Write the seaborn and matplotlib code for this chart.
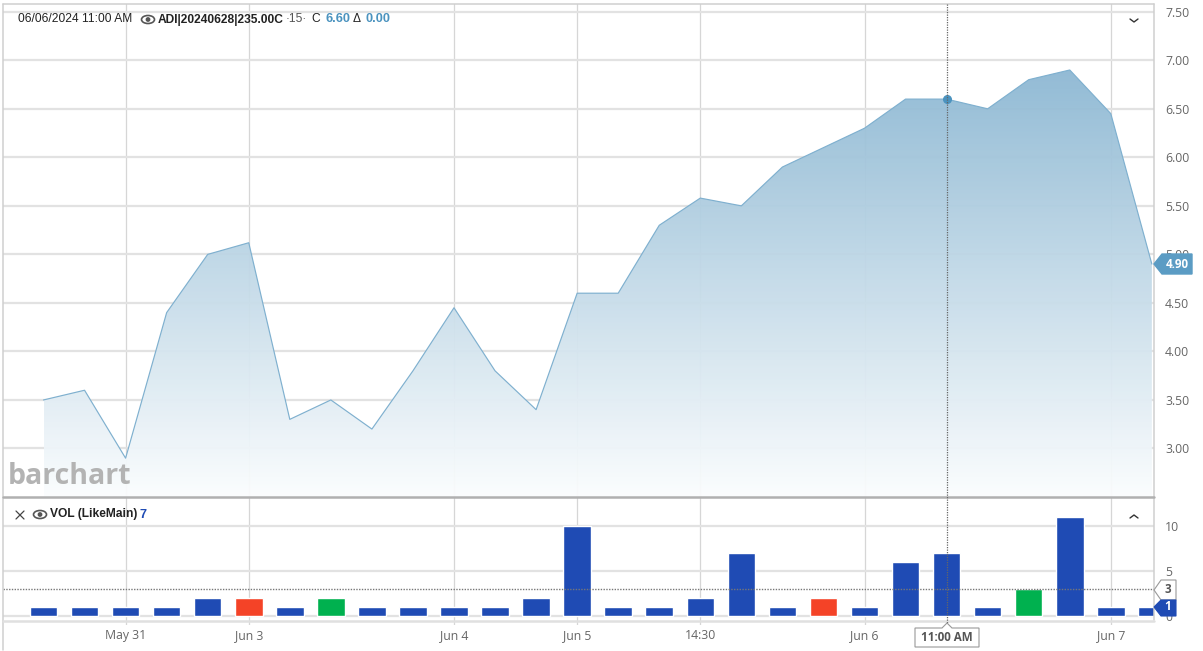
# Opcion ADI, precio y volumen
import numpy as np
import pandas as pd
import matplotlib
matplotlib.use('Agg')
import matplotlib.pyplot as plt
import seaborn as sns
from matplotlib.colors import LinearSegmentedColormap
from matplotlib.patches import Polygon, Ellipse, Circle

# Datos
periods = list(range(28))
prices = [3.50, 3.60, 2.90, 4.40, 5.00, 5.12, 3.30, 3.50, 3.20, 3.80, 4.45, 3.80, 3.40, 4.60,
          4.60, 5.30, 5.58, 5.50, 5.90, 6.10, 6.30, 6.60, 6.60, 6.50, 6.80, 6.90, 6.45, 4.90]
volumes = [1, 1, 1, 1, 2, 2, 1, 2, 1, 1, 1, 1, 2, 10, 1, 1, 2, 7, 1, 2, 1, 6, 7, 1, 3, 11, 1, 1]
vol_kind = ['b', 'b', 'b', 'b', 'b', 'r', 'b', 'g', 'b', 'b', 'b', 'b', 'b', 'b',
            'b', 'b', 'b', 'b', 'b', 'r', 'b', 'b', 'b', 'b', 'g', 'b', 'b', 'b']
date_ticks = [2, 5, 10, 13, 16, 20, 26]
date_labels = ['May 31', 'Jun 3', 'Jun 4', 'Jun 5', '14:30', 'Jun 6', 'Jun 7']
price_ticks = [3.0, 3.5, 4.0, 4.5, 5.0, 5.5, 6.0, 6.5, 7.0, 7.5]
vol_ticks = [0, 5, 10]
cursor = 22

df = pd.DataFrame({'period': periods, 'price': prices, 'volume': volumes, 'kind': vol_kind})

sns.set_theme(style='white')
plt.rcParams['font.family'] = ['Open Sans', 'DejaVu Sans']

W, H = 1203, 651
fig = plt.figure(figsize=(W / 100, H / 100), dpi=100)


def pane(left, top, right, bottom):
    return fig.add_axes([left / W, 1 - bottom / H, (right - left) / W, (bottom - top) / H])


ax = pane(3, 4, 1154, 497)
ax2 = pane(3, 498, 1154, 625)
xlim = ((3 - 43.5) / 41.05, (1154 - 43.5) / 41.05)

# Panel de precio
grid_h = '#e2e2e2'
grid_v = '#d6d6d6'
for a in (ax, ax2):
    a.set_xlim(xlim)
    for t in date_ticks:
        a.axvline(t, color=grid_v, lw=0.9, zorder=1)
    for s in a.spines.values():
        s.set_visible(False)
    a.set_xlabel('')
    a.set_ylabel('')

ax.set_ylim(2.5, 7.58)
for v in price_ticks:
    ax.axhline(v, color=grid_h, lw=1.6, zorder=1)

# Relleno en degradado recortado bajo la linea
cmap = LinearSegmentedColormap.from_list('fill', ['#fbfdfe', '#8db8d3'])
img = ax.imshow(np.linspace(1, 0, 256).reshape(-1, 1), cmap=cmap, aspect='auto', vmin=0, vmax=1,
                extent=[0, 27, 2.5, 6.9], zorder=2, alpha=0.95)
verts = list(zip(periods, prices)) + [(27, 2.5), (0, 2.5)]
clip = Polygon(verts, closed=True, transform=ax.transData, fc='none', ec='none')
ax.add_patch(clip)
img.set_clip_path(clip)
ax.set_xlim(xlim)
ax.set_ylim(2.5, 7.58)

sns.lineplot(data=df, x='period', y='price', color='#7fb0cf', lw=0.85, ax=ax, zorder=3)
ax.plot([cursor], [prices[cursor]], 'o', color='#4b93bf', ms=5.5, zorder=5)
ax.set_xlabel('')
ax.set_ylabel('')
ax.set_xticks([])
ax.yaxis.tick_right()
ax.set_yticks(price_ticks, [f'{v:.2f}' for v in price_ticks])
ax.tick_params(axis='y', length=0, pad=8, labelsize=8.8, labelcolor='#666666')

# Panel de volumen
ax2.set_ylim(-1, 13.1)
for v in vol_ticks:
    ax2.axhline(v, color=grid_h, lw=1.6, zorder=1)
sns.barplot(data=df, x='period', y='volume', hue='kind', native_scale=True, dodge=False,
            palette={'b': '#1f4bb4', 'r': '#f44327', 'g': '#00b14f'}, width=0.67,
            saturation=1, legend=False, ax=ax2, zorder=3)
ax2.set_xlim(xlim)
ax2.set_ylim(-1, 13.1)
ax2.set_xlabel('')
ax2.set_ylabel('')
ax2.axhline(3, color='#777777', lw=1, ls=(0, (1, 1)), zorder=4)
ax2.yaxis.tick_right()
ax2.set_yticks(vol_ticks, [str(v) for v in vol_ticks])
ax2.tick_params(axis='y', length=0, pad=8, labelsize=8.8, labelcolor='#666666')
for lab in ax2.get_yticklabels():
    lab.set_x(1.0)
ax2.set_xticks(date_ticks, date_labels)
ax2.tick_params(axis='x', length=0, pad=3, labelsize=8.8, labelcolor='#666666')

# Capa en pixeles para marcos, cabecera y etiquetas
ov = fig.add_axes([0, 0, 1, 1], facecolor='none')
ov.set_xlim(0, W)
ov.set_ylim(H, 0)
ov.axis('off')
ov.plot([3, 1154], [4, 4], color='#cfcfcf', lw=1.1)
ov.plot([3, 3], [4, 650], color='#cfcfcf', lw=1.1)
ov.plot([1154, 1154], [4, 620], color='#cfcfcf', lw=1.1)
ov.plot([3, 1154], [497, 497], color='#b0b0b0', lw=1.8)
ov.plot([3, 1154], [620.5, 620.5], color='#e0e0e0', lw=1.8)
ov.plot([947, 947], [4, 625], color='#666666', lw=0.9, ls=(0, (1, 1)))

arial = ['Liberation Sans', 'DejaVu Sans']
def label(x, y, s, color='#222222', weight='normal', size=8.65, ha='left'):
    ov.text(x, y, s, color=color, fontweight=weight, fontsize=size, ha=ha, va='center', family=arial)


def eye(x, y):
    ov.add_patch(Ellipse((x, y), 13, 8, fc='white', ec='#555555', lw=1.2))
    ov.add_patch(Circle((x, y), 2.4, fc='#555555', ec='none'))


label(18, 19.5, '06/06/2024 11:00 AM')
eye(148, 19.5)
label(158, 19.5, 'ADI|20240628|235.00C', weight='bold')
label(286, 19.5, '·15·', color='#555555')
label(311, 19.5, 'C')
label(325, 19.5, '6.60', color='#4b93bf', weight='bold', size=9.2)
label(353, 19.5, 'Δ')
label(366, 19.5, '0.00', color='#4b93bf', weight='bold', size=9.2)
ov.plot([1130, 1134, 1138], [19, 22, 19], color='#333333', lw=1)

ov.plot([16, 24], [511, 519], color='#444444', lw=0.9)
ov.plot([16, 24], [519, 511], color='#444444', lw=0.9)
eye(40, 514.5)
label(50, 514.5, 'VOL (LikeMain)', weight='bold')
label(140, 514.5, '7', color='#1f4bb4', weight='bold', size=9.2)
ov.plot([1130, 1134, 1138], [518, 515, 518], color='#333333', lw=1)

ov.text(8, 477, 'barchart', color='#b3b3b3', fontsize=20.5, fontweight='bold', ha='left', va='center',
        family=['Open Sans', 'DejaVu Sans'])

# Etiquetas de ultimo valor y cursor
ov.add_patch(Polygon([(1154, 264), (1162, 254), (1192, 254), (1192, 274), (1162, 274)],
                     fc='#5b9cc4', ec='#5b9cc4', zorder=6))
ov.text(1177, 264, '4.90', color='white', fontweight='bold', fontsize=8.4, ha='center', va='center', zorder=7)
ov.add_patch(Polygon([(1154, 590), (1161, 580), (1176, 580), (1176, 600), (1161, 600)],
                     fc='white', ec='#999999', lw=0.8, zorder=6))
ov.text(1168, 589.5, '3', color='#555555', fontweight='bold', fontsize=8.4, ha='center', va='center', zorder=7)
ov.add_patch(Polygon([(1154, 607), (1161, 600), (1176, 600), (1176, 616), (1161, 616)],
                     fc='#1f4bb4', ec='#1f4bb4', lw=0.8, zorder=6))
ov.text(1168, 607, '1', color='white', fontweight='bold', fontsize=8.4, ha='center', va='center', zorder=7)
ov.add_patch(Polygon([(915, 628), (942, 628), (947, 623), (952, 628), (979, 628), (979, 647), (915, 647)],
                     fc='white', ec='#999999', lw=0.8, zorder=6))
ov.text(947, 637.5, '11:00 AM', color='#555555', fontweight='bold', fontsize=8.4, ha='center', va='center', zorder=7)

fig.savefig('out.png', dpi=100, facecolor='white')
